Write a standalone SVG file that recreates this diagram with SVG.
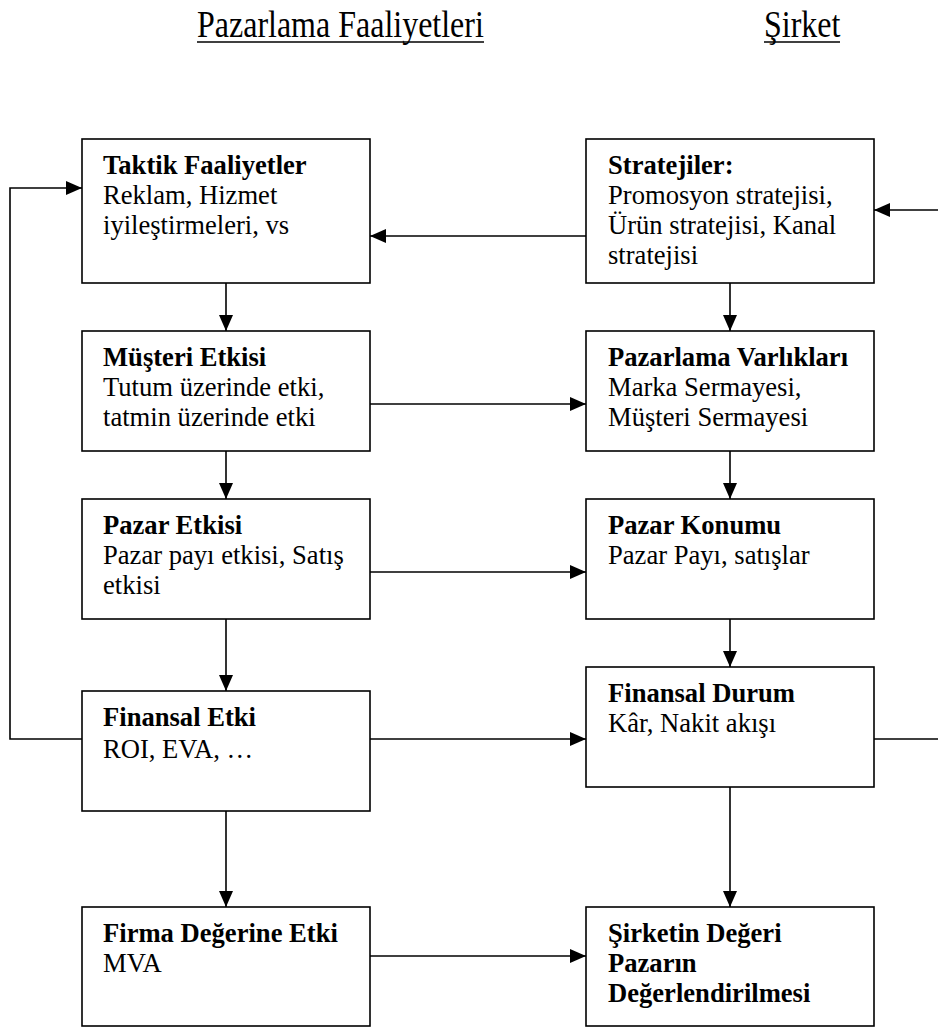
<svg xmlns="http://www.w3.org/2000/svg" width="938" height="1032" viewBox="0 0 938 1032">
<style>
.box{fill:#fff;stroke:#000;stroke-width:1.6}
text{font-family:'Liberation Serif','Times New Roman',Times,serif;fill:#000}
.t{font-size:26.6px}
.b{font-weight:bold}
.h{font-size:32px}
.c{fill:none;stroke:#000;stroke-width:1.6}
.u{stroke:#000;stroke-width:1.6}
</style>
<defs>
<marker id="ah" markerUnits="userSpaceOnUse" markerWidth="16" markerHeight="14" refX="16" refY="7" orient="auto">
<path d="M0,0 L16,7 L0,14 z" fill="#000"/>
</marker>
</defs>
<g id="headers">
<text class="h" transform="translate(197,37) scale(1,1.18)" x="0" y="0">Pazarlama Faaliyetleri</text>
<line class="u" x1="197" y1="42" x2="484" y2="42"/>
<text class="h" transform="translate(764,37) scale(1,1.18)" x="0" y="0">Şirket</text>
<line class="u" x1="764" y1="42" x2="840" y2="42"/>
</g>
<g id="connectors">
<path class="c" d="M938,210 L874,210" marker-end="url(#ah)"/>
<path class="c" d="M586,236 L370,236" marker-end="url(#ah)"/>
<path class="c" d="M82,739 L10,739 L10,188 L82,188" marker-end="url(#ah)"/>
<path class="c" d="M226,283 L226,331" marker-end="url(#ah)"/>
<path class="c" d="M226,451 L226,499" marker-end="url(#ah)"/>
<path class="c" d="M226,619 L226,691" marker-end="url(#ah)"/>
<path class="c" d="M226,811 L226,907" marker-end="url(#ah)"/>
<path class="c" d="M730,283 L730,331" marker-end="url(#ah)"/>
<path class="c" d="M730,451 L730,499" marker-end="url(#ah)"/>
<path class="c" d="M730,619 L730,667" marker-end="url(#ah)"/>
<path class="c" d="M730,787 L730,907" marker-end="url(#ah)"/>
<path class="c" d="M370,404 L586,404" marker-end="url(#ah)"/>
<path class="c" d="M370,572 L586,572" marker-end="url(#ah)"/>
<path class="c" d="M370,739 L586,739" marker-end="url(#ah)"/>
<path class="c" d="M874,739 L938,739"/>
<path class="c" d="M370,956 L586,956" marker-end="url(#ah)"/>
</g>
<g id="taktik">
<rect class="box" x="82" y="139" width="288" height="144"/>
<text class="t b" x="103" y="174">Taktik Faaliyetler</text>
<text class="t" x="103" y="204">Reklam, Hizmet</text>
<text class="t" x="103" y="234">iyileştirmeleri, vs</text>
</g>
<g id="stratejiler">
<rect class="box" x="586" y="139" width="288" height="144"/>
<text class="t b" x="608" y="174">Stratejiler:</text>
<text class="t" x="608" y="204">Promosyon stratejisi,</text>
<text class="t" x="608" y="234">Ürün stratejisi, Kanal</text>
<text class="t" x="608" y="264">stratejisi</text>
</g>
<g id="musteri">
<rect class="box" x="82" y="331" width="288" height="120"/>
<text class="t b" x="103" y="366">Müşteri Etkisi</text>
<text class="t" x="103" y="396">Tutum üzerinde etki,</text>
<text class="t" x="103" y="426">tatmin üzerinde etki</text>
</g>
<g id="varliklar">
<rect class="box" x="586" y="331" width="288" height="120"/>
<text class="t b" x="608" y="366">Pazarlama Varlıkları</text>
<text class="t" x="608" y="396">Marka Sermayesi,</text>
<text class="t" x="608" y="426">Müşteri Sermayesi</text>
</g>
<g id="pazar-etkisi">
<rect class="box" x="82" y="499" width="288" height="120"/>
<text class="t b" x="103" y="534">Pazar Etkisi</text>
<text class="t" x="103" y="564">Pazar payı etkisi, Satış</text>
<text class="t" x="103" y="594">etkisi</text>
</g>
<g id="pazar-konumu">
<rect class="box" x="586" y="499" width="288" height="120"/>
<text class="t b" x="608" y="534">Pazar Konumu</text>
<text class="t" x="608" y="564">Pazar Payı, satışlar</text>
</g>
<g id="finansal-etki">
<rect class="box" x="82" y="691" width="288" height="120"/>
<text class="t b" x="103" y="726">Finansal Etki</text>
<text class="t" x="103" y="758">ROI, EVA, …</text>
</g>
<g id="finansal-durum">
<rect class="box" x="586" y="667" width="288" height="120"/>
<text class="t b" x="608" y="702">Finansal Durum</text>
<text class="t" x="608" y="732">Kâr, Nakit akışı</text>
</g>
<g id="firma">
<rect class="box" x="82" y="907" width="288" height="119"/>
<text class="t b" x="103" y="942">Firma Değerine Etki</text>
<text class="t" x="103" y="972">MVA</text>
</g>
<g id="sirketin">
<rect class="box" x="586" y="907" width="288" height="119"/>
<text class="t b" x="608" y="942">Şirketin Değeri</text>
<text class="t b" x="608" y="972">Pazarın</text>
<text class="t b" x="608" y="1002">Değerlendirilmesi</text>
</g>
</svg>
